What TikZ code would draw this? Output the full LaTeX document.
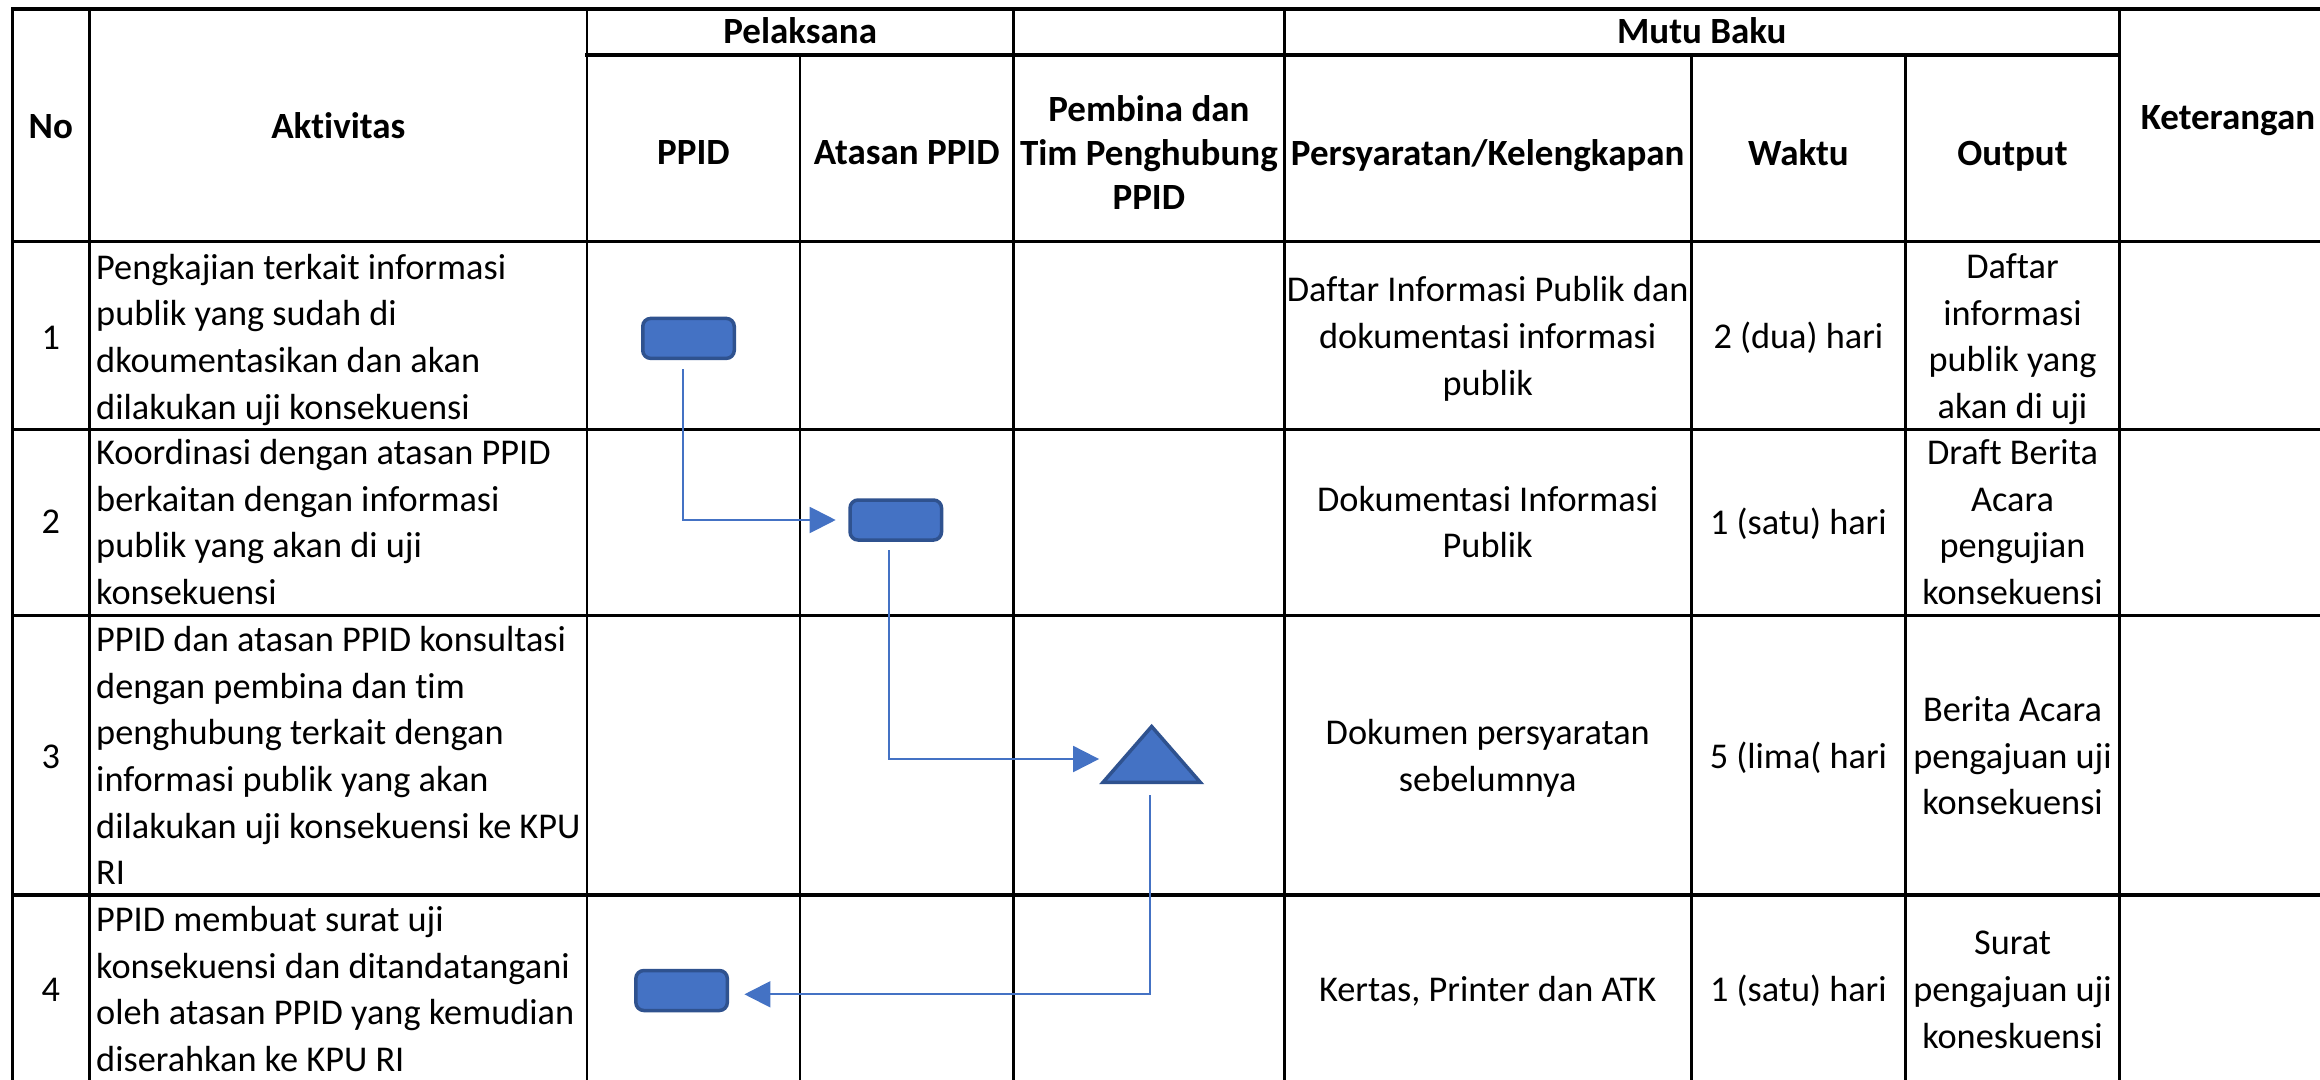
\documentclass[tikz,border=0pt]{standalone}
\usepackage{fontspec}
\setmainfont{Carlito}[Ligatures=NoCommon]
\usetikzlibrary{arrows.meta}
\definecolor{shapefill}{HTML}{4472C4}
\definecolor{shapeline}{HTML}{2F528F}
\definecolor{conncol}{HTML}{4472C4}
\newcommand{\zs}{\rule[-0.25em]{0pt}{1em}}
\begin{document}
\begin{tikzpicture}[x=1pt,y=-1pt,
  vgrid/.style={line width=2.6pt, black, line cap=rect},
  hgrid/.style={line width=3.2pt, black, line cap=rect},
  txt/.style={inner sep=0pt, align=center, font=\fontsize{36.3}{46.7}\selectfont},
  head/.style={inner sep=0pt, align=center, font=\fontsize{37}{44}\selectfont\bfseries},
  act/.style={txt, align=left, anchor=west},
  proc/.style={draw=shapeline, fill=shapefill, line width=3.5pt, rounded corners=8pt,
               minimum width=91.5pt, minimum height=40pt, inner sep=0pt},
  conn/.style={draw=conncol, line width=2pt, -{Triangle[length=26pt,width=26pt]}},
]
\useasboundingbox (0,0) rectangle (2320,1079);
\clip (0,0) rectangle (2320,1079);

% ---- grid ----
\draw[hgrid] (12.3,9) -- (2340,9);
\draw[hgrid] (587,55) -- (2119.3,55);
\draw[hgrid] (12.3,241.7) -- (2340,241.7);
\draw[hgrid] (12.3,429.3) -- (2340,429.3);
\draw[hgrid] (12.3,615.5) -- (2340,615.5);
\draw[hgrid] (12.3,895) -- (2340,895);
\draw[hgrid] (12.3,1088) -- (2340,1088);
\foreach \x in {12.3,89.3,587,1013.5,1284.3,2119.3}
  \draw[vgrid] (\x,9) -- (\x,1090);
\foreach \x in {800,1691.2,1905.7}
  \draw[vgrid] (\x,55) -- (\x,1090);

% ---- header ----
\node[head] (hno) at (50.8,129) {\zs No};
\node[head] (hakt) at (338.3,129) {\zs Aktivitas};
\node[head] (hpel) at (800.2,34) {\zs Pelaksana};
\node[head] (hppid) at (693.5,155) {\zs PPID};
\node[head] (hatas) at (906.7,155) {\zs Atasan PPID};
\node[head] (hpemb) at (1148.9,156) {\zs Pembina dan\\Tim Penghubung\\\zs PPID};
\node[head] (hmutu) at (1701.8,34) {\zs Mutu Baku};
\node[head] (hsyar) at (1487.7,156) {\zs Persyaratan/Kelengkapan};
\node[head] (hwak) at (1798.4,156) {\zs Waktu};
\node[head] (hout) at (2012.5,156) {\zs Output};
\node[head] (hket) at (2228,120) {\zs Keterangan};

% ---- row 1 ----
\node[txt] (n1) at (50.8,340) {\zs 1};
\node[act] (a1) at (96,340) {\zs Pengkajian terkait informasi\\publik yang sudah di\\dkoumentasikan dan akan\\\zs dilakukan uji konsekuensi};
\node[txt] (s1) at (1487.7,339.5) {\zs Daftar Informasi Publik dan\\dokumentasi informasi\\\zs publik};
\node[txt] (w1) at (1798.4,339.5) {\zs 2 (dua) hari};
\node[txt] (o1) at (2012.5,339.5) {\zs Daftar\\informasi\\publik yang\\\zs akan di uji};

% ---- row 2 ----
\node[txt] (n2) at (50.8,524.5) {\zs 2};
\node[act] (a2) at (96,525.5) {\zs Koordinasi dengan atasan PPID\\berkaitan dengan informasi\\publik yang akan di uji\\\zs konsekuensi};
\node[txt] (s2) at (1487.7,525.5) {\zs Dokumentasi Informasi\\\zs Publik};
\node[txt] (w2) at (1798.4,525.5) {\zs 1 (satu) hari};
\node[txt] (o2) at (2012.5,525.5) {\zs Draft Berita\\Acara\\pengujian\\\zs konsekuensi};

% ---- row 3 ----
\node[txt] (n3) at (50.8,759) {\zs 3};
\node[act] (a3) at (96,759) {\zs PPID dan atasan PPID konsultasi\\dengan pembina dan tim\\penghubung terkait dengan\\informasi publik yang akan\\dilakukan uji konsekuensi ke KPU\\\zs RI};
\node[txt] (s3) at (1487.7,759) {\zs Dokumen persyaratan\\\zs sebelumnya};
\node[txt] (w3) at (1798.4,759) {\zs 5 (lima( hari};
\node[txt] (o3) at (2012.5,759) {\zs Berita Acara\\pengajuan uji\\\zs konsekuensi};

% ---- row 4 ----
\node[txt] (n4) at (50.8,992.5) {\zs 4};
\node[act] (a4) at (96,992.5) {\zs PPID membuat surat uji\\konsekuensi dan ditandatangani\\oleh atasan PPID yang kemudian\\\zs diserahkan ke KPU RI};
\node[txt] (s4) at (1487.7,992.5) {\zs Kertas, Printer dan ATK};
\node[txt] (w4) at (1798.4,992.5) {\zs 1 (satu) hari};
\node[txt] (o4) at (2012.5,992.5) {\zs Surat\\pengajuan uji\\\zs koneskuensi};

% ---- flow shapes ----
\node[proc] (r1) at (688.5,338.4) {};
\node[proc] (r2) at (895.8,520) {};
\node[proc] (r4) at (681.6,990.5) {};
\node[minimum width=104.7pt, minimum height=60pt, inner sep=0pt] (tri) at (1151.65,754) {};
\filldraw[draw=shapeline, fill=shapefill, line width=3.5pt]
  ([yshift=-2.7pt]tri.north) -- ([xshift=3.8pt,yshift=1.75pt]tri.south west)
  -- ([xshift=-3.8pt,yshift=1.75pt]tri.south east) -- cycle;

% ---- connectors ----
\draw[conn, shorten <=9.3pt, shorten >=12.6pt] ([xshift=-5.5pt]r1.south) |- (r2.west);
\draw[conn, shorten <=8.3pt] ([xshift=-7pt]r2.south) |- ([yshift=-5pt]tri.west);
\draw[conn, shorten <=11pt, shorten >=15.3pt] ([xshift=-1.7pt]tri.south) |- ([yshift=-3.8pt]r4.east);
\end{tikzpicture}
\end{document}
